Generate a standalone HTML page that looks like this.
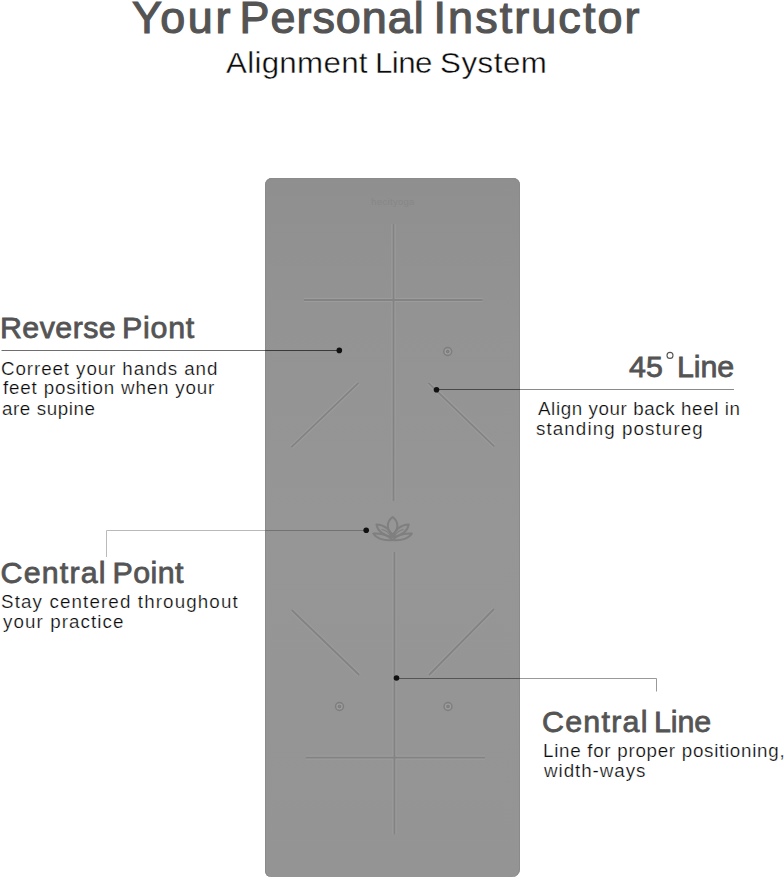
<!DOCTYPE html>
<html><head><meta charset="utf-8">
<style>
html,body{margin:0;padding:0;background:#fff;}
body{width:784px;height:879px;position:relative;overflow:hidden;font-family:"Liberation Sans",sans-serif;}
.t{position:absolute;white-space:nowrap;line-height:1;transform-origin:0 0;}
.h{font-weight:bold;color:#545454;}
.b{color:#333;}
#mat{position:absolute;left:264.5px;top:178px;width:255.5px;height:699px;background:linear-gradient(#8f8f8f 0%,#939393 20%,#969696 50%,#949494 100%);border-radius:7px 7px 8px 6px;box-shadow:inset 1px 0 0 #8a8a8a, inset -1px 0 0 #8a8a8a, inset 0 1px 0 #8a8a8a;}
svg{position:absolute;left:0;top:0;}
</style></head>
<body>
<div id="mat"></div>
<svg id="art" width="784" height="879" viewBox="0 0 784 879">
  <g stroke="#9c9c9c" stroke-width="4.2" fill="none">
    <line x1="393.5" y1="224" x2="393.5" y2="501"/>
    <line x1="304" y1="300" x2="482.5" y2="300"/>
    <line x1="291.4" y1="447.2" x2="358.5" y2="382.8"/>
    <line x1="428.4" y1="382.8" x2="494.2" y2="446.3"/>
    <line x1="394.4" y1="552" x2="394.4" y2="834.5"/>
    <line x1="291.7" y1="610" x2="359.2" y2="675"/>
    <line x1="494" y1="609" x2="429" y2="675"/>
    <line x1="305.8" y1="757.6" x2="485" y2="757.6"/>
  </g>
  <g stroke="#838383" stroke-width="1.8" fill="none">
    <line x1="393.5" y1="224" x2="393.5" y2="501"/>
    <line x1="304" y1="300" x2="482.5" y2="300"/>
    <line x1="291.4" y1="447.2" x2="358.5" y2="382.8"/>
    <line x1="428.4" y1="382.8" x2="494.2" y2="446.3"/>
    <line x1="394.4" y1="552" x2="394.4" y2="834.5"/>
    <line x1="291.7" y1="610" x2="359.2" y2="675"/>
    <line x1="494" y1="609" x2="429" y2="675"/>
    <line x1="305.8" y1="757.6" x2="485" y2="757.6"/>
  </g>
  <g stroke="#a0a0a0" stroke-width="1" fill="none">
    <circle cx="447.7" cy="351.5" r="2.6"/>
    <circle cx="339.5" cy="706.5" r="2.6"/>
    <circle cx="448" cy="706.5" r="2.6"/>
  </g>
  <g stroke="#7e7e7e" stroke-width="1.4" fill="none">
    <circle cx="447.7" cy="351.5" r="4.0"/>
    <circle cx="339.5" cy="706.5" r="4.0"/>
    <circle cx="448" cy="706.5" r="4.0"/>
    <circle cx="447.7" cy="351.5" r="1.1"/>
    <circle cx="339.5" cy="706.5" r="1.1"/>
    <circle cx="448" cy="706.5" r="1.1"/>
  </g>
  <g stroke="#7f7f7f" stroke-width="2" fill="none" stroke-linejoin="round" stroke-linecap="round">
    <path d="M392.6,517 C386.5,521.5 386,529 392.6,534.5 C399.2,529 398.7,521.5 392.6,517 Z"/>
    <path d="M376.5,524.5 C383,524.6 389,528 392.5,537 C384,536 377.5,531 376.5,524.5 Z"/>
    <path d="M408.7,524.5 C402.2,524.6 396.2,528 392.7,537 C401.2,536 407.7,531 408.7,524.5 Z"/>
    <path d="M373.3,533.6 C380,533 388,535 392.6,540 C383,541 376,538 373.3,533.6 Z"/>
    <path d="M411.9,533.6 C405.2,533 397.2,535 392.6,540 C402.2,541 409.2,538 411.9,533.6 Z"/>
    <path d="M382,529.5 C386,530.5 389.5,533.5 391,537" stroke-width="1.1"/>
    <path d="M403.2,529.5 C399.2,530.5 395.7,533.5 394.2,537" stroke-width="1.1"/>
  </g>
  <g stroke-width="1" fill="none">
    <line x1="1.5" y1="350.5" x2="265" y2="350.5" stroke="#6e6e6e"/>
    <line x1="265" y1="350.5" x2="339" y2="350.5" stroke="#3a3a3a"/>
    <line x1="437" y1="389.5" x2="520" y2="389.5" stroke="#484848"/>
    <line x1="520" y1="389.5" x2="734" y2="389.5" stroke="#8a8a8a"/>
    <polyline points="106.5,557 106.5,530.5 265,530.5" stroke="#bababa"/>
    <line x1="265" y1="530.5" x2="366" y2="530.5" stroke="#727272"/>
    <line x1="397" y1="678.5" x2="520" y2="678.5" stroke="#555"/>
    <polyline points="520,678.5 656.5,678.5 656.5,691.5" stroke="#999"/>
  </g>
  <g fill="#111">
    <circle cx="339.3" cy="350.4" r="2.8"/>
    <circle cx="436.5" cy="389.7" r="2.8"/>
    <circle cx="366.2" cy="530.3" r="2.8"/>
    <circle cx="396.5" cy="678" r="2.8"/>
  </g>
  <circle cx="670" cy="355.4" r="3.0" stroke="#545454" stroke-width="1.1" fill="none"/>
  <text x="393" y="205" font-family="Liberation Sans" font-size="9.5" fill="#878787" text-anchor="middle" letter-spacing="0.3">hecityoga</text>
</svg>
<div class="t h" id="title_0" style="left:132.00px;top:-3.60px;font-size:44.91px;letter-spacing:2.533px;-webkit-text-stroke:1.2px #545454;color:#545454;font-weight:normal;">Your</div>
<div class="t h" id="title_1" style="left:239.50px;top:-3.60px;font-size:44.91px;letter-spacing:1.000px;-webkit-text-stroke:1.2px #545454;color:#545454;font-weight:normal;">Personal</div>
<div class="t h" id="title_2" style="left:433.50px;top:-3.60px;font-size:44.91px;letter-spacing:2.089px;-webkit-text-stroke:1.2px #545454;color:#545454;font-weight:normal;">Instructor</div>
<div class="t b" id="sub_0" style="left:226.00px;top:46.82px;font-size:30.38px;letter-spacing:0.291px;-webkit-text-stroke:0.4px #fff;color:#0a0a0a;transform:scaleX(1.0300);">Alignment</div>
<div class="t b" id="sub_1" style="left:375.00px;top:46.82px;font-size:30.38px;letter-spacing:-0.583px;-webkit-text-stroke:0.4px #fff;color:#0a0a0a;transform:scaleX(1.0300);">Line</div>
<div class="t b" id="sub_2" style="left:440.00px;top:46.82px;font-size:30.38px;letter-spacing:0.505px;-webkit-text-stroke:0.4px #fff;color:#0a0a0a;transform:scaleX(1.0300);">System</div>
<div class="t h" id="h1_0" style="left:0.00px;top:311.81px;font-size:30.38px;letter-spacing:0.433px;-webkit-text-stroke:0.8px #545454;color:#545454;font-weight:normal;">Reverse</div>
<div class="t h" id="h1_1" style="left:122.00px;top:311.81px;font-size:30.38px;letter-spacing:0.750px;-webkit-text-stroke:0.8px #545454;color:#545454;font-weight:normal;">Piont</div>
<div class="t b" id="b1a" style="left:0.50px;top:360.51px;font-size:17.73px;letter-spacing:0.854px;-webkit-text-stroke:0.24px #fff;color:#0a0a0a;transform:scaleX(1.0600);">Correet your hands and</div>
<div class="t b" id="b1b" style="left:2.50px;top:380.32px;font-size:17.73px;letter-spacing:0.780px;-webkit-text-stroke:0.24px #fff;color:#0a0a0a;transform:scaleX(1.0600);">feet position when your</div>
<div class="t b" id="b1c" style="left:2.00px;top:400.51px;font-size:17.73px;letter-spacing:0.545px;-webkit-text-stroke:0.24px #fff;color:#0a0a0a;transform:scaleX(1.0600);">are supine</div>
<div class="t h" id="h2a" style="left:629.00px;top:351.20px;font-size:30.38px;letter-spacing:0.200px;-webkit-text-stroke:0.8px #545454;color:#545454;font-weight:normal;">45</div>
<div class="t h" id="h2b" style="left:677.00px;top:351.20px;font-size:30.38px;letter-spacing:-0.067px;-webkit-text-stroke:0.8px #545454;color:#545454;font-weight:normal;">Line</div>
<div class="t b" id="b2a" style="left:537.50px;top:400.82px;font-size:17.73px;letter-spacing:0.557px;-webkit-text-stroke:0.24px #fff;color:#0a0a0a;transform:scaleX(1.0600);">Align your back heel in</div>
<div class="t b" id="b2b" style="left:535.50px;top:420.51px;font-size:17.73px;letter-spacing:1.026px;-webkit-text-stroke:0.24px #fff;color:#0a0a0a;transform:scaleX(1.0600);">standing postureg</div>
<div class="t h" id="h3_0" style="left:0.50px;top:556.81px;font-size:30.38px;letter-spacing:1.200px;-webkit-text-stroke:0.8px #545454;color:#545454;font-weight:normal;">Central</div>
<div class="t h" id="h3_1" style="left:112.50px;top:556.81px;font-size:30.38px;letter-spacing:0.450px;-webkit-text-stroke:0.8px #545454;color:#545454;font-weight:normal;">Point</div>
<div class="t b" id="b3a" style="left:1.00px;top:594.01px;font-size:17.73px;letter-spacing:1.058px;-webkit-text-stroke:0.24px #fff;color:#0a0a0a;transform:scaleX(1.0600);">Stay centered throughout</div>
<div class="t b" id="b3b" style="left:2.50px;top:614.01px;font-size:17.73px;letter-spacing:1.022px;-webkit-text-stroke:0.24px #fff;color:#0a0a0a;transform:scaleX(1.0600);">your practice</div>
<div class="t h" id="h4_0" style="left:542.00px;top:705.60px;font-size:30.38px;letter-spacing:1.267px;-webkit-text-stroke:0.8px #545454;color:#545454;font-weight:normal;">Central</div>
<div class="t h" id="h4_1" style="left:654.00px;top:705.60px;font-size:30.38px;letter-spacing:-0.067px;-webkit-text-stroke:0.8px #545454;color:#545454;font-weight:normal;">Line</div>
<div class="t b" id="b4a" style="left:542.50px;top:742.60px;font-size:17.73px;letter-spacing:0.671px;-webkit-text-stroke:0.24px #fff;color:#0a0a0a;transform:scaleX(1.0600);">Line for proper positioning,</div>
<div class="t b" id="b4b" style="left:543.50px;top:763.01px;font-size:17.73px;letter-spacing:0.901px;-webkit-text-stroke:0.24px #fff;color:#0a0a0a;transform:scaleX(1.0600);">width-ways</div>
</body></html>
